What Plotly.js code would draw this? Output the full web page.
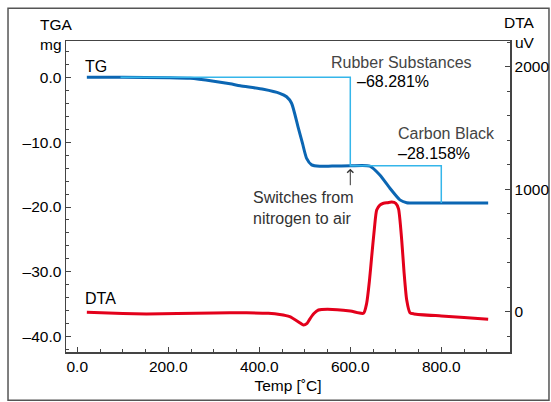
<!DOCTYPE html>
<html>
<head>
<meta charset="utf-8">
<script src="https://cdn.plot.ly/plotly-3.0.1.min.js"></script>
<style>
  html, body { margin: 0; padding: 0; background: #fff; }
  #chart { width: 551px; height: 402px; }
</style>
</head>
<body>
<div id="chart"></div>
<script>
// ---- Data ----
const tgTemp = [21, 100, 200, 248, 300, 336, 358, 409, 445, 460, 471, 485, 495, 504, 515, 533, 560, 600, 643, 665, 687, 709, 724, 750, 800, 903];
const tgMass = [0, 0, -0.05, -0.15, -0.6, -1.0, -1.3, -1.85, -2.47, -3.0, -4.0, -7.6, -10.2, -12.5, -13.5, -13.72, -13.68, -13.65, -13.7, -15.07, -17.1, -18.9, -19.33, -19.38, -19.38, -19.38];

const stepTemp = [95, 600, 600, 800, 800];
const stepMass = [0, 0, -13.65, -13.65, -19.38];

const dtaTemp = [21, 100, 152, 220, 300, 372, 420, 445, 467, 489, 497, 505, 511, 520, 530, 550, 600, 629, 636, 642, 647, 653, 658, 665, 673, 682, 691, 700, 706, 713, 718, 724, 731, 740, 800, 850, 903];
const dtaUv = [-5, -15, -18, -15, -10, -9, -13, -22, -40, -90, -109, -95, -60, -15, 14, 20, 5, -13, 69, 250, 449, 680, 830, 870, 885, 890, 895, 885, 840, 585, 330, 95, -8, -18, -35, -48, -62];

const xTickVals = [0, 200, 400, 600, 800];
const xTickText = ['0.0', '200.0', '400.0', '600.0', '800.0'];
const xMinorVals = [50, 100, 150, 250, 300, 350, 450, 500, 550, 650, 700, 750, 850, 900];
const yTickVals = [0, -10, -20, -30, -40];
const yTickText = ['0.0', '\u201310.0', '\u201320.0', '\u201330.0', '\u201340.0'];
const y2TickVals = [0, 1000, 2000];
const y2TickText = ['0', '1000', '2000'];

const FONT = '"Liberation Sans", Arial, Helvetica, sans-serif';
const AX = '#444';

const traces = [
  { x: tgTemp, y: tgMass, type: 'scatter', mode: 'lines', name: 'TG',
    line: { color: '#0b66b3', width: 3, shape: 'spline', smoothing: 0.6 }, yaxis: 'y' },
  { x: stepTemp, y: stepMass, type: 'scatter', mode: 'lines', name: 'step',
    line: { color: '#35b6ea', width: 1.5 }, yaxis: 'y' },
  { x: dtaTemp, y: dtaUv, type: 'scatter', mode: 'lines', name: 'DTA',
    line: { color: '#e3001b', width: 3, shape: 'spline', smoothing: 0.6 }, yaxis: 'y2' }
];

const layout = {
  width: 551, height: 402,
  margin: { l: 66, r: 41, t: 41, b: 50 },
  paper_bgcolor: '#fff', plot_bgcolor: '#fff',
  showlegend: false,
  font: { family: FONT, size: 15.5, color: '#000' },
  xaxis: {
    range: [-24.8, 951],
    tickmode: 'array', tickvals: xTickVals, ticktext: xTickText,
    ticks: 'inside', ticklen: 5, tickwidth: 1, tickcolor: AX,
    minor: { tickmode: 'array', tickvals: xMinorVals, ticks: 'inside', ticklen: 3, tickwidth: 1, tickcolor: AX },
    showline: true, linecolor: AX, linewidth: 1.5, mirror: true,
    showgrid: false, zeroline: false,
    tickfont: { size: 15.5 },
    title: { text: 'Temp [\u02DAC]', font: { size: 15.5 }, standoff: 6 }
  },
  yaxis: {
    range: [-42.36, 5.6],
    tickmode: 'array', tickvals: yTickVals, ticktext: yTickText,
    ticks: 'inside', ticklen: 5, tickwidth: 1, tickcolor: AX,
    minor: { tickmode: 'linear', tick0: 0, dtick: 2, ticks: 'inside', ticklen: 3, tickwidth: 1, tickcolor: AX },
    showline: true, linecolor: AX, linewidth: 1.5,
    showgrid: false, zeroline: false,
    tickfont: { size: 15.5 }
  },
  yaxis2: {
    overlaying: 'y', side: 'right',
    range: [-329, 2210],
    tickmode: 'array', tickvals: y2TickVals, ticktext: y2TickText,
    ticks: 'inside', ticklen: 5, tickwidth: 1, tickcolor: AX,
    minor: { tickmode: 'linear', tick0: 0, dtick: 200, ticks: 'inside', ticklen: 3, tickwidth: 1, tickcolor: AX },
    showline: true, linecolor: AX, linewidth: 1.5,
    showgrid: false, zeroline: false,
    tickfont: { size: 15.5 }
  },
  shapes: [
    { type: 'rect', xref: 'paper', yref: 'paper', x0: -0.1306, x1: 1.0878, y0: -0.1555, y1: 1.105,
      line: { color: '#555', width: 1.5 }, fillcolor: 'rgba(0,0,0,0)', layer: 'below' }
  ],
  annotations: [
    { xref: 'paper', yref: 'paper', x: -0.0624, y: 1.0225, xanchor: 'left', yanchor: 'middle', align: 'left',
      text: 'TGA<br>mg', showarrow: false, font: { size: 15.5 } },
    { xref: 'paper', yref: 'paper', x: 1.06, y: 1.027, xanchor: 'right', yanchor: 'middle', align: 'right',
      text: 'DTA<br>uV', showarrow: false, font: { size: 15.5 } },
    { xref: 'x', yref: 'y', x: 12.5, y: 1.6, xanchor: 'left', yanchor: 'middle',
      text: 'TG', showarrow: false, font: { size: 16 } },
    { xref: 'x', yref: 'y2', x: 12.5, y: 104, xanchor: 'left', yanchor: 'middle',
      text: 'DTA', showarrow: false, font: { size: 16 } },
    { xref: 'x', yref: 'y', x: 553, y: 2.36, xanchor: 'left', yanchor: 'middle',
      text: 'Rubber Substances', showarrow: false, font: { size: 16, color: '#444' } },
    { xref: 'x', yref: 'y', x: 610, y: -0.57, xanchor: 'left', yanchor: 'middle',
      text: '\u201368.281%', showarrow: false, font: { size: 16, color: '#000' } },
    { xref: 'x', yref: 'y', x: 700, y: -8.6, xanchor: 'left', yanchor: 'middle',
      text: 'Carbon Black', showarrow: false, font: { size: 16, color: '#444' } },
    { xref: 'x', yref: 'y', x: 700, y: -11.7, xanchor: 'left', yanchor: 'middle',
      text: '\u201328.158%', showarrow: false, font: { size: 16, color: '#000' } },
    { xref: 'x', yref: 'y', x: 381, y: -20.2, xanchor: 'left', yanchor: 'middle', align: 'left',
      text: 'Switches from<br>nitrogen to air', showarrow: false, font: { size: 16, color: '#333' } },
    { xref: 'x', yref: 'y', x: 600, y: -14.1, axref: 'x', ayref: 'y', ax: 600, ay: -16.87,
      text: '', showarrow: true, arrowhead: 4, arrowsize: 1.2, arrowwidth: 1, arrowcolor: '#333', standoff: 0 }
  ]
};

Plotly.newPlot('chart', traces, layout, { staticPlot: true, displayModeBar: false });
</script>
</body>
</html>
